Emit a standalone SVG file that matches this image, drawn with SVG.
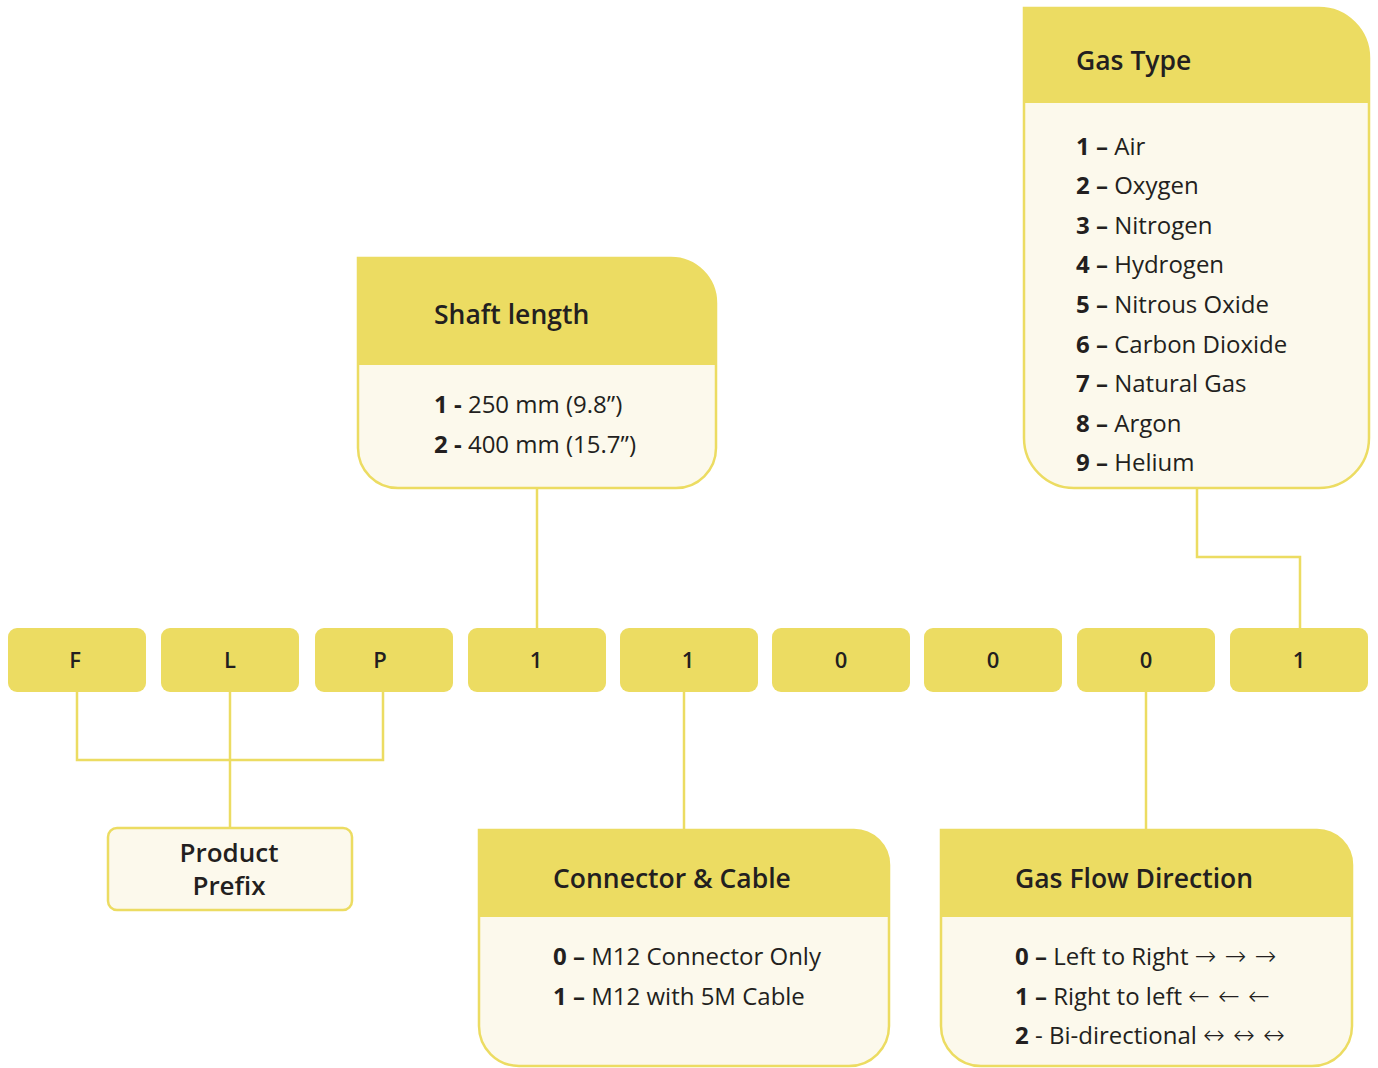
<svg xmlns="http://www.w3.org/2000/svg" width="1378" height="1068" viewBox="0 0 1378 1068">
  <style>
    .code { fill: #ECDC62; }
    .codetxt { font-family: "Open Sans", "Liberation Sans", sans-serif; font-size: 22px; font-weight: 600; fill: #231F20; text-anchor: middle; }
    .card { fill: #FCF9EC; stroke: #ECDC62; stroke-width: 2.5; }
    .head { fill: #ECDC62; }
    .title { font-family: "Open Sans", "Liberation Sans", sans-serif; font-size: 26.5px; font-weight: 600; fill: #231F20; }
    .item { font-family: "Open Sans", "Liberation Sans", sans-serif; font-size: 24px; fill: #231F20; }
    .item .k { font-weight: 700; }
    .arr { font-family: "DejaVu Sans", sans-serif; font-size: 26px; font-weight: 200; word-spacing: 0px; }
    .wire { fill: none; stroke: #ECDC62; stroke-width: 2.5; }
  </style>

  <!-- connectors -->
  <g id="connectors">
    <path class="wire" d="M537 488 V628"/>
    <path class="wire" d="M1197 488 V557 H1300 V628"/>
    <path class="wire" d="M77 692 V760 H383 V692"/>
    <path class="wire" d="M230 692 V828"/>
    <path class="wire" d="M684 692 V830"/>
    <path class="wire" d="M1146 692 V830"/>
  </g>

  <!-- code row -->
  <g id="code-F"><rect class="code" x="8" y="628" width="138" height="64" rx="9"/><text class="codetxt" x="75" y="668">F</text></g>
  <g id="code-L"><rect class="code" x="161" y="628" width="138" height="64" rx="9"/><text class="codetxt" x="230" y="668">L</text></g>
  <g id="code-P"><rect class="code" x="315" y="628" width="138" height="64" rx="9"/><text class="codetxt" x="380" y="668">P</text></g>
  <g id="code-shaft"><rect class="code" x="468" y="628" width="138" height="64" rx="9"/><text class="codetxt" x="536" y="668">1</text></g>
  <g id="code-connector"><rect class="code" x="620" y="628" width="138" height="64" rx="9"/><text class="codetxt" x="688" y="668">1</text></g>
  <g id="code-6"><rect class="code" x="772" y="628" width="138" height="64" rx="9"/><text class="codetxt" x="841" y="668">0</text></g>
  <g id="code-7"><rect class="code" x="924" y="628" width="138" height="64" rx="9"/><text class="codetxt" x="993" y="668">0</text></g>
  <g id="code-flow"><rect class="code" x="1077" y="628" width="138" height="64" rx="9"/><text class="codetxt" x="1146" y="668">0</text></g>
  <g id="code-gas"><rect class="code" x="1230" y="628" width="138" height="64" rx="9"/><text class="codetxt" x="1299" y="668">1</text></g>

  <!-- Gas Type -->
  <g id="gas-type">
    <path class="card" d="M1024 8 H1319 A50 50 0 0 1 1369 58 V438 A50 50 0 0 1 1319 488 H1074 A50 50 0 0 1 1024 438 Z"/>
    <path class="head" d="M1024 8 H1319 A50 50 0 0 1 1369 58 V103 H1024 Z"/>
    <text class="title" x="1076" y="70">Gas Type</text>
    <text class="item" x="1076" y="155"><tspan class="k">1 –</tspan> Air</text>
    <text class="item" x="1076" y="194"><tspan class="k">2 –</tspan> Oxygen</text>
    <text class="item" x="1076" y="234"><tspan class="k">3 –</tspan> Nitrogen</text>
    <text class="item" x="1076" y="273"><tspan class="k">4 –</tspan> Hydrogen</text>
    <text class="item" x="1076" y="313"><tspan class="k">5 –</tspan> Nitrous Oxide</text>
    <text class="item" x="1076" y="353"><tspan class="k">6 –</tspan> Carbon Dioxide</text>
    <text class="item" x="1076" y="392"><tspan class="k">7 –</tspan> Natural Gas</text>
    <text class="item" x="1076" y="432"><tspan class="k">8 –</tspan> Argon</text>
    <text class="item" x="1076" y="471"><tspan class="k">9 –</tspan> Helium</text>
  </g>

  <!-- Shaft length -->
  <g id="shaft-length">
    <path class="card" d="M358 258 H671 A45 45 0 0 1 716 303 V448 A40 40 0 0 1 676 488 H398 A40 40 0 0 1 358 448 Z"/>
    <path class="head" d="M358 258 H671 A45 45 0 0 1 716 303 V365 H358 Z"/>
    <text class="title" x="434" y="324">Shaft length</text>
    <text class="item" x="434" y="413"><tspan class="k">1 -</tspan> 250 mm (9.8”)</text>
    <text class="item" x="434" y="453"><tspan class="k">2 -</tspan> 400 mm (15.7”)</text>
  </g>

  <!-- Product Prefix -->
  <g id="product-prefix">
    <rect class="card" x="108" y="828" width="244" height="82" rx="9"/>
    <text class="title" text-anchor="middle" style="font-size:26px"><tspan x="229" y="862">Product</tspan><tspan x="229" y="895">Prefix</tspan></text>
  </g>

  <!-- Connector & Cable -->
  <g id="connector-cable">
    <path class="card" d="M479 830 H854 A35 35 0 0 1 889 865 V1026 A40 40 0 0 1 849 1066 H519 A40 40 0 0 1 479 1026 Z"/>
    <path class="head" d="M479 830 H854 A35 35 0 0 1 889 865 V917 H479 Z"/>
    <text class="title" x="553" y="888">Connector &amp; Cable</text>
    <text class="item" x="553" y="965"><tspan class="k">0 –</tspan> M12 Connector Only</text>
    <text class="item" x="553" y="1005"><tspan class="k">1 –</tspan> M12 with 5M Cable</text>
  </g>

  <!-- Gas Flow Direction -->
  <g id="gas-flow">
    <path class="card" d="M941 830 H1317 A35 35 0 0 1 1352 865 V1026 A40 40 0 0 1 1312 1066 H981 A40 40 0 0 1 941 1026 Z"/>
    <path class="head" d="M941 830 H1317 A35 35 0 0 1 1352 865 V917 H941 Z"/>
    <text class="title" x="1015" y="888">Gas Flow Direction</text>
    <text class="item" x="1015" y="965"><tspan class="k">0 –</tspan> Left to Right <tspan class="arr">→ → →</tspan></text>
    <text class="item" x="1015" y="1005"><tspan class="k">1 –</tspan> Right to left <tspan class="arr">← ← ←</tspan></text>
    <text class="item" x="1015" y="1044"><tspan class="k">2</tspan> - Bi-directional <tspan class="arr">↔ ↔ ↔</tspan></text>
  </g>
</svg>
